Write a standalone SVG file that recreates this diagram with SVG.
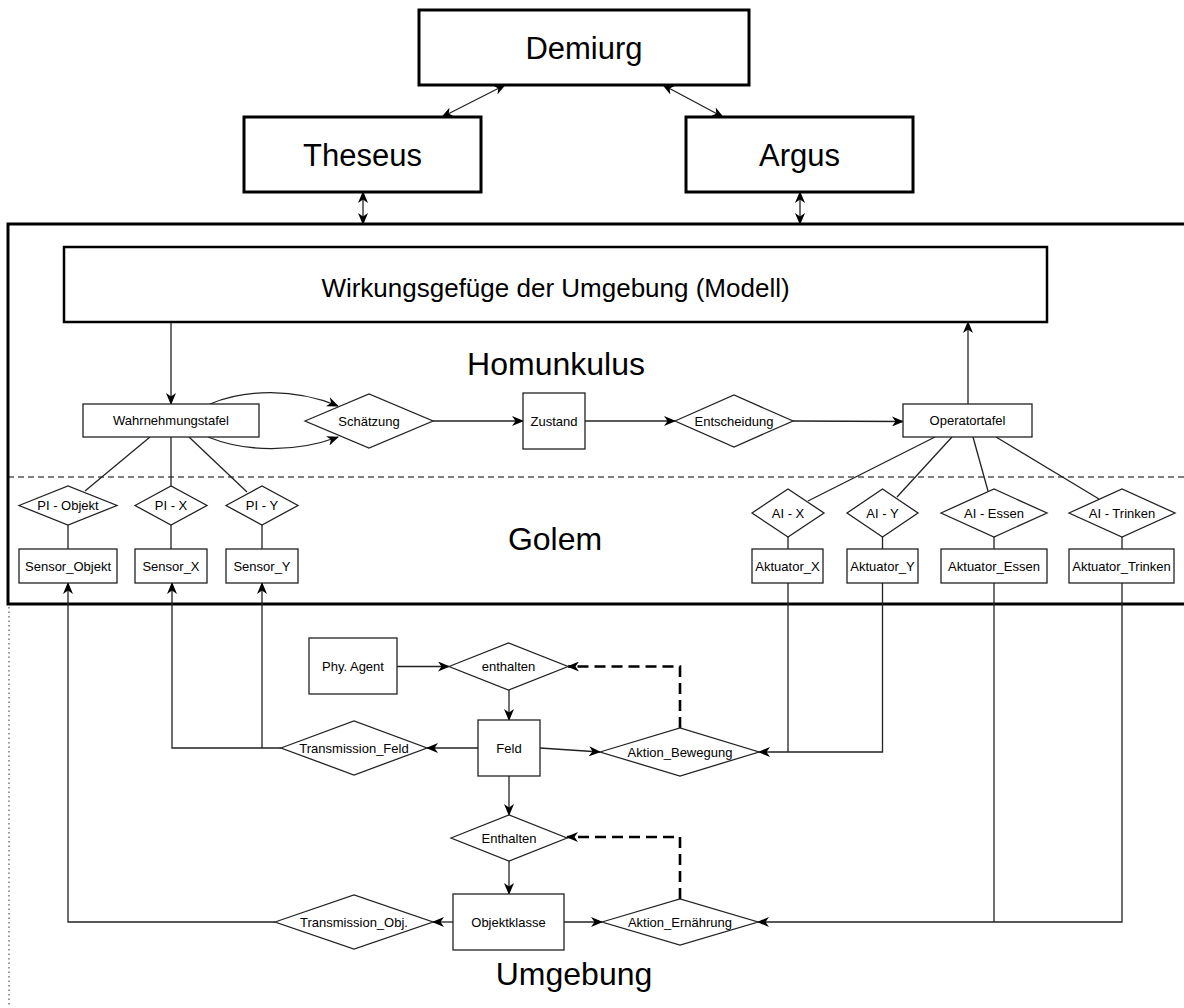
<svg xmlns="http://www.w3.org/2000/svg" width="1184" height="1008" viewBox="0 0 1184 1008">
<style>
text{font-family:"Liberation Sans",Arial,Helvetica,sans-serif;fill:#000;text-anchor:middle;dominant-baseline:central}
.big{font-size:31px}
.mid{font-size:26px}
.lbl{font-size:32px}
.sm{font-size:13px}
.thick{fill:#fff;stroke:#000;stroke-width:3}
.box{fill:#fff;stroke:#000;stroke-width:2.5}
.n{fill:#fff;stroke:#222;stroke-width:1.3}
.c{fill:none;stroke:#222;stroke-width:1.3}
.d{fill:none;stroke:#000;stroke-width:2.6;stroke-dasharray:11,6}
.a{marker-end:url(#arr)}
.b{marker-start:url(#arr);marker-end:url(#arr)}
</style>
<defs>
<marker id="arr" viewBox="0 0 12 10" refX="11" refY="5" markerWidth="12" markerHeight="10" markerUnits="userSpaceOnUse" orient="auto-start-reverse">
<path d="M0,0 L12,5 L0,10 L3.5,5 z" fill="#000"/>
</marker>
</defs>
<rect width="1184" height="1008" fill="#fff"/>

<g id="homunkulus-frame">
<rect class="thick" x="8" y="224" width="1182" height="380"/>
<path d="M8,477 H1184" fill="none" stroke="#000" stroke-width="1.2" stroke-dasharray="6,4"/>
<path d="M9,607 V1005" fill="none" stroke="#555" stroke-width="1.2" stroke-dasharray="1.5,3"/>
<text class="lbl" x="556" y="364">Homunkulus</text>
<text class="lbl" x="555" y="539">Golem</text>
<text class="lbl" x="574" y="974">Umgebung</text>
</g>

<g id="connectors">
<path class="c b" d="M505,85 L442,117"/>
<path class="c b" d="M663,85 L723,117"/>
<path class="c b" d="M363,192 V224"/>
<path class="c b" d="M800,192 V224"/>
<path class="c a" d="M171,322 V404"/>
<path class="c a" d="M968,404 V322"/>
<path class="c a" d="M210,404 C245,389 295,388 338,406"/>
<path class="c a" d="M208,437 C245,452 295,453 338,437"/>
<path class="c a" d="M433,421 H523"/>
<path class="c a" d="M585,421 H675"/>
<path class="c a" d="M793,421 L903,421.5"/>
<path class="c" d="M150,437 L85,491"/>
<path class="c" d="M171,437 V486"/>
<path class="c" d="M189,437 L247,492"/>
<path class="c" d="M68,525 V549"/>
<path class="c" d="M171,525 V549"/>
<path class="c" d="M262,525 V549"/>
<path class="c" d="M935,437 L808,501"/>
<path class="c" d="M952,437 L897,497"/>
<path class="c" d="M973,437 L988,491"/>
<path class="c" d="M996,437 L1099,499"/>
<path class="c" d="M788,537 V549"/>
<path class="c" d="M882.5,537 V549"/>
<path class="c" d="M994,537 V549"/>
<path class="c" d="M1122,537 V549"/>
<path class="c" d="M788,583 V752"/>
<path class="c a" d="M882.5,583 V752 H759"/>
<path class="c" d="M994,583 V922"/>
<path class="c a" d="M1122,583 V922 H758"/>
<path class="c a" d="M397,666.5 H449"/>
<path class="c a" d="M509,690 V720"/>
<path class="c a" d="M540,748 L600,752"/>
<path class="c a" d="M478,748 H427"/>
<path class="c a" d="M281,748 H172 V583"/>
<path class="c a" d="M262,748 V583"/>
<path class="d a" d="M680,728 V666.5 H568"/>
<path class="c a" d="M509,776 V815"/>
<path class="c a" d="M509,861 V894"/>
<path class="d a" d="M680,899 V837 H567"/>
<path class="c a" d="M453,922 H433"/>
<path class="c a" d="M564,922 H602"/>
<path class="c a" d="M275,922 H68 V583"/>
</g>

<g id="demiurg"><rect class="thick" x="419" y="10" width="330" height="75"/><text class="big" x="584" y="48">Demiurg</text></g>
<g id="theseus"><rect class="thick" x="244" y="117" width="237" height="75"/><text class="big" x="362.5" y="155">Theseus</text></g>
<g id="argus"><rect class="thick" x="686" y="117" width="227" height="75"/><text class="big" x="799.5" y="155">Argus</text></g>
<g id="wirkungsgefuege"><rect class="box" x="64" y="247" width="983" height="75"/><text class="mid" x="555.5" y="288">Wirkungsgefüge der Umgebung (Modell)</text></g>

<g id="wahrnehmungstafel"><rect class="n" x="83" y="404" width="176" height="33"/><text class="sm" x="171" y="420.5">Wahrnehmungstafel</text></g>
<g id="schaetzung"><polygon class="n" points="305,421 369,394 433,421 369,448"/><text class="sm" x="369" y="421">Schätzung</text></g>
<g id="zustand"><rect class="n" x="523" y="393" width="62" height="56"/><text class="sm" x="554" y="421">Zustand</text></g>
<g id="entscheidung"><polygon class="n" points="675,421 734,395 793,421 734,447"/><text class="sm" x="734" y="421">Entscheidung</text></g>
<g id="operatortafel"><rect class="n" x="903" y="404" width="129" height="33"/><text class="sm" x="967.5" y="420.5">Operatortafel</text></g>

<g id="pi-objekt"><polygon class="n" points="19,505.5 68,486 117,505.5 68,525"/><text class="sm" x="68" y="505.5">PI - Objekt</text></g>
<g id="pi-x"><polygon class="n" points="135,505.5 171,486 207,505.5 171,525"/><text class="sm" x="171" y="505.5">PI - X</text></g>
<g id="pi-y"><polygon class="n" points="226,505.5 262,486 298,505.5 262,525"/><text class="sm" x="262" y="505.5">PI - Y</text></g>
<g id="sensor-objekt"><rect class="n" x="19" y="549" width="98" height="34"/><text class="sm" x="68" y="566">Sensor_Objekt</text></g>
<g id="sensor-x"><rect class="n" x="135" y="549" width="72" height="34"/><text class="sm" x="171" y="566">Sensor_X</text></g>
<g id="sensor-y"><rect class="n" x="226" y="549" width="72" height="34"/><text class="sm" x="262" y="566">Sensor_Y</text></g>

<g id="ai-x"><polygon class="n" points="752,513 788,489 824,513 788,537"/><text class="sm" x="788" y="513">AI - X</text></g>
<g id="ai-y"><polygon class="n" points="847,513 882.5,489 918,513 882.5,537"/><text class="sm" x="882.5" y="513">AI - Y</text></g>
<g id="ai-essen"><polygon class="n" points="941,513 994,489 1047,513 994,537"/><text class="sm" x="994" y="513">AI - Essen</text></g>
<g id="ai-trinken"><polygon class="n" points="1069,513 1122,489 1175,513 1122,537"/><text class="sm" x="1122" y="513">AI - Trinken</text></g>
<g id="aktuator-x"><rect class="n" x="752" y="549" width="71" height="34"/><text class="sm" x="787.5" y="566">Aktuator_X</text></g>
<g id="aktuator-y"><rect class="n" x="847" y="549" width="71" height="34"/><text class="sm" x="882.5" y="566">Aktuator_Y</text></g>
<g id="aktuator-essen"><rect class="n" x="941" y="549" width="106" height="34"/><text class="sm" x="994" y="566">Aktuator_Essen</text></g>
<g id="aktuator-trinken"><rect class="n" x="1069" y="549" width="105" height="34"/><text class="sm" x="1121.5" y="566">Aktuator_Trinken</text></g>

<g id="phy-agent"><rect class="n" x="309" y="638" width="88" height="56"/><text class="sm" x="353" y="666">Phy. Agent</text></g>
<g id="enthalten"><polygon class="n" points="449,666.5 508.5,643 568,666.5 508.5,690"/><text class="sm" x="508.5" y="666.5">enthalten</text></g>
<g id="feld"><rect class="n" x="478" y="720" width="62" height="56"/><text class="sm" x="509" y="748">Feld</text></g>
<g id="transmission-feld"><polygon class="n" points="281,748 354,721 427,748 354,775"/><text class="sm" x="354" y="748">Transmission_Feld</text></g>
<g id="aktion-bewegung"><polygon class="n" points="600,752 680,728 759,752 680,776"/><text class="sm" x="680" y="752">Aktion_Bewegung</text></g>
<g id="enthalten2"><polygon class="n" points="451,838 509,815 567,838 509,861"/><text class="sm" x="509" y="838">Enthalten</text></g>
<g id="objektklasse"><rect class="n" x="453" y="894" width="111" height="56"/><text class="sm" x="508.5" y="922">Objektklasse</text></g>
<g id="transmission-obj"><polygon class="n" points="275,922 354,895 433,922 354,949"/><text class="sm" x="354" y="922">Transmission_Obj.</text></g>
<g id="aktion-ernaehrung"><polygon class="n" points="602,922 680,899 758,922 680,945"/><text class="sm" x="680" y="922">Aktion_Ernährung</text></g>
</svg>
